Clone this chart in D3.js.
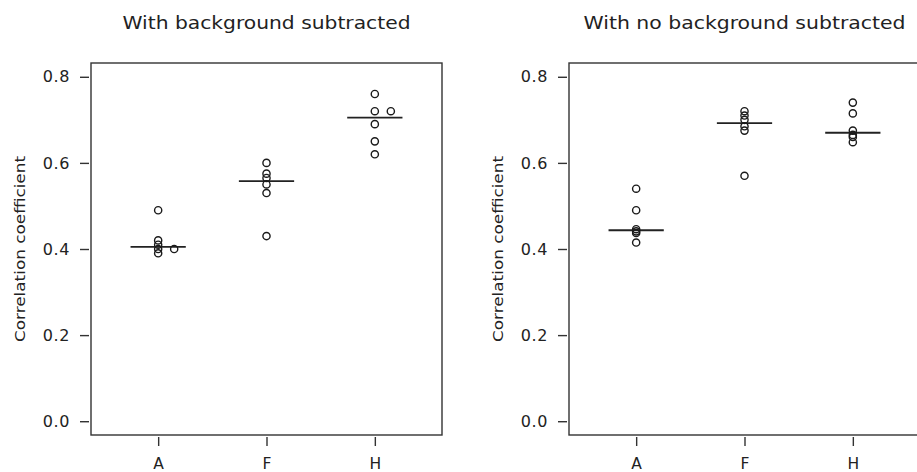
<!DOCTYPE html>
<html>
<head>
<meta charset="utf-8">
<script src="https://cdn.jsdelivr.net/npm/d3@7"></script>
<style>
  html, body { margin: 0; padding: 0; background: #fff; }
  svg { display: block; }
  text { font-family: "DejaVu Sans", Verdana, sans-serif; fill: #222; }
</style>
</head>
<body>
<svg id="chart" width="917" height="472"></svg>
<script>
// Groups on the x axis
const groups = ["A", "F", "H"];
const panelTitles = ["With background subtracted", "With no background subtracted"];
const yTicks = [0.0, 0.2, 0.4, 0.6, 0.8];
const yLabel = "Correlation coefficient";

// Correlation coefficients per replicate, background subtracted
const subA = [0.49, 0.42, 0.41, 0.40, 0.40, 0.39];
const subF = [0.60, 0.575, 0.565, 0.55, 0.53, 0.43];
const subH = [0.76, 0.72, 0.72, 0.69, 0.65, 0.62];

// Correlation coefficients per replicate, no background subtracted
const rawA = [0.54, 0.49, 0.446, 0.441, 0.437, 0.415];
const rawF = [0.72, 0.71, 0.70, 0.685, 0.675, 0.57];
const rawH = [0.74, 0.715, 0.675, 0.665, 0.66, 0.648];

const panels = [
  { title: panelTitles[0], series: [subA, subF, subH], left: 91, titleWidth: 288 },
  { title: panelTitles[1], series: [rawA, rawF, rawH], left: 569, titleWidth: 322 }
];

const svg = d3.select("#chart");
const boxW = 351, boxTop = 63, boxBottom = 435;
const ink = "#222";

panels.forEach(p => {
  const x = d3.scalePoint().domain(groups).range([p.left, p.left + boxW]).padding(0.62);
  const y = d3.scaleLinear().domain([-0.032, 0.832]).range([boxBottom, boxTop]);
  const g = svg.append("g");

  // frame
  g.append("rect")
    .attr("x", p.left).attr("y", boxTop)
    .attr("width", boxW).attr("height", boxBottom - boxTop)
    .attr("fill", "none").attr("stroke", "#333").attr("stroke-width", 1.4);

  // y axis ticks and labels
  const ya = g.append("g").attr("transform", `translate(${p.left - 2},0)`)
    .call(d3.axisLeft(y).tickValues(yTicks).tickFormat(d3.format(".1f")).tickSize(9).tickPadding(10));
  ya.select(".domain").remove();
  ya.selectAll("line").attr("stroke", "#333").attr("stroke-width", 1.4);
  ya.selectAll("text").style("font-size", "16px").style("letter-spacing", "0.6px")
    .attr("fill", ink).attr("font-family", "DejaVu Sans, Verdana, sans-serif");

  // x axis ticks and labels
  const xa = g.append("g").attr("transform", `translate(0,${boxBottom + 2})`)
    .call(d3.axisBottom(x).tickSize(9).tickPadding(12));
  xa.select(".domain").remove();
  xa.selectAll("line").attr("stroke", "#333").attr("stroke-width", 1.4);
  xa.selectAll("text").style("font-size", "15.5px").attr("fill", ink)
    .attr("font-family", "DejaVu Sans, Verdana, sans-serif");

  // title
  g.append("text")
    .attr("x", p.left + boxW / 2).attr("y", 29)
    .attr("text-anchor", "middle")
    .attr("textLength", p.titleWidth)
    .attr("lengthAdjust", "spacingAndGlyphs")
    .style("font-size", "18.5px")
    .text(p.title);

  // y axis title
  g.append("text")
    .attr("transform", `translate(${p.left - 66},${(boxTop + boxBottom) / 2}) rotate(-90)`)
    .attr("text-anchor", "middle")
    .attr("textLength", 186)
    .attr("lengthAdjust", "spacingAndGlyphs")
    .style("font-size", "14px")
    .text(yLabel);

  const half = x.step() * 0.255;
  p.series.forEach((vals, i) => {
    const cx = x(groups[i]);
    // median bar
    const m = d3.median(vals);
    g.append("line")
      .attr("x1", cx - half).attr("x2", cx + half)
      .attr("y1", y(m)).attr("y2", y(m))
      .attr("stroke", "#222").attr("stroke-width", 1.8);

    // stacked strip of points: equal values are placed side by side
    const seen = new Map();
    const pts = vals.map(v => {
      const k = seen.get(v) || 0;
      seen.set(v, k + 1);
      return { v, k };
    });
    g.selectAll(null).data(pts).enter().append("circle")
      .attr("cx", d => cx + d.k * 16)
      .attr("cy", d => y(d.v))
      .attr("r", 3.6)
      .attr("fill", "none")
      .attr("stroke", "#1a1a1a")
      .attr("stroke-width", 1.4);
  });
});
</script>
</body>
</html>
